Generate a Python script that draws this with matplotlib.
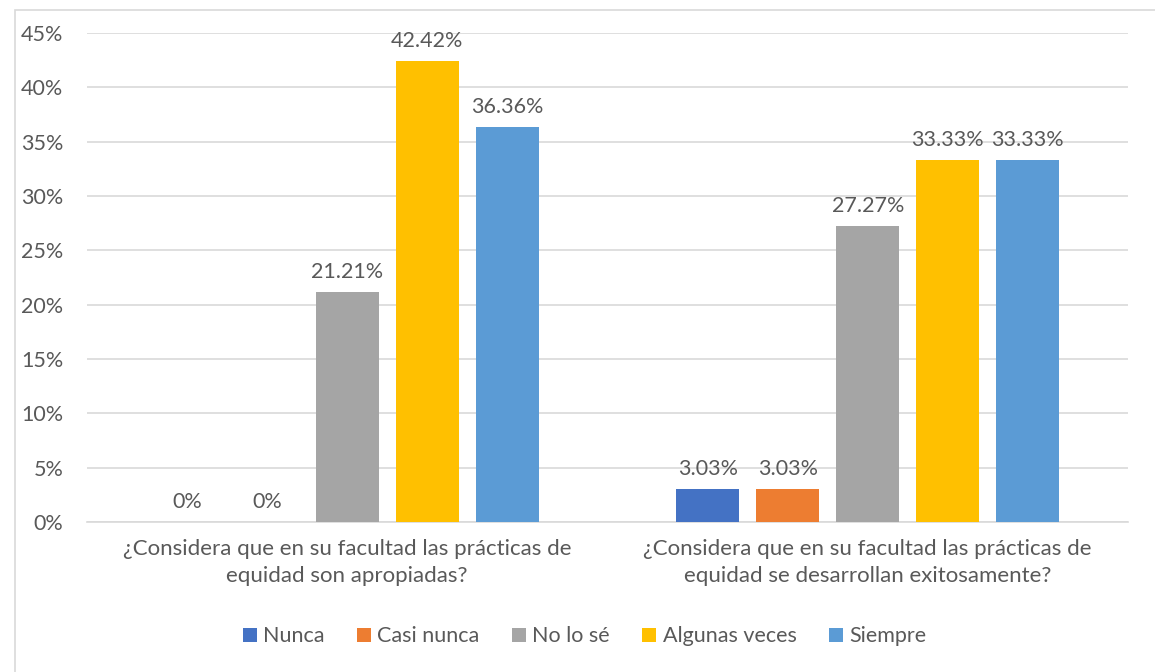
import numpy as np
import matplotlib.pyplot as plt
from matplotlib.patches import Rectangle

categories = ["¿Considera que en su facultad las prácticas de\nequidad son apropiadas?",
              "¿Considera que en su facultad las prácticas de\nequidad se desarrollan exitosamente?"]
series = ["Nunca", "Casi nunca", "No lo sé", "Algunas veces", "Siempre"]
values = [[0.0, 3.03],
          [0.0, 3.03],
          [21.21, 27.27],
          [42.42, 33.33],
          [36.36, 33.33]]
colors = ["#4472C4", "#ED7D31", "#A5A5A5", "#FFC000", "#5B9BD5"]

plt.rcParams['font.family'] = ['Lato', 'DejaVu Sans']
text_color = "#595959"

fig = plt.figure(figsize=(11.55, 6.72), dpi=100)
ax = fig.add_axes([0.0753, 0.2232, 0.9013, 0.7277])

x = np.arange(len(categories))
width = 0.121
step = 0.1537
for i, (name, vals) in enumerate(zip(series, values)):
    pos = x + (i - 2) * step
    bars = ax.bar(pos, vals, width, color=colors[i], label=name, zorder=3)
    for p, v in zip(pos, vals):
        lab = "0%" if v == 0 else f"{v:.2f}%"
        ax.annotate(lab, (p, v), xytext=(0, 7), textcoords="offset points",
                    ha="center", va="bottom", fontsize=15.5, color=text_color)

ax.set_xlim(-0.5, 1.5)
ax.set_ylim(0, 45)
ax.set_yticks(range(0, 46, 5))
ax.set_yticklabels([f"{t}%" for t in range(0, 46, 5)])
ax.set_xticks(x)
ax.set_xticklabels(categories, fontsize=16, color=text_color, linespacing=1.45)
ax.tick_params(axis="y", labelsize=15.5, labelcolor=text_color, length=0, pad=17)
ax.tick_params(axis="x", length=0, pad=12)
ax.grid(axis="y", color="#D9D9D9", linewidth=1.2, zorder=0)
for s in ["top", "right", "left"]:
    ax.spines[s].set_visible(False)
ax.spines["bottom"].set_color("#D9D9D9")
ax.spines["bottom"].set_linewidth(1.2)

fig.legend(loc="center", bbox_to_anchor=(0.506, 0.053), ncol=5, frameon=False,
           fontsize=15.5, labelcolor=text_color, handlelength=0.65, handleheight=0.65,
           handletextpad=0.3, columnspacing=1.5)

fig.patches.append(Rectangle((0.013, -0.1), 1.1, 1.085, transform=fig.transFigure,
                             fill=False, edgecolor="#D9D9D9", linewidth=1.2))

fig.savefig("out.png", dpi=100)
